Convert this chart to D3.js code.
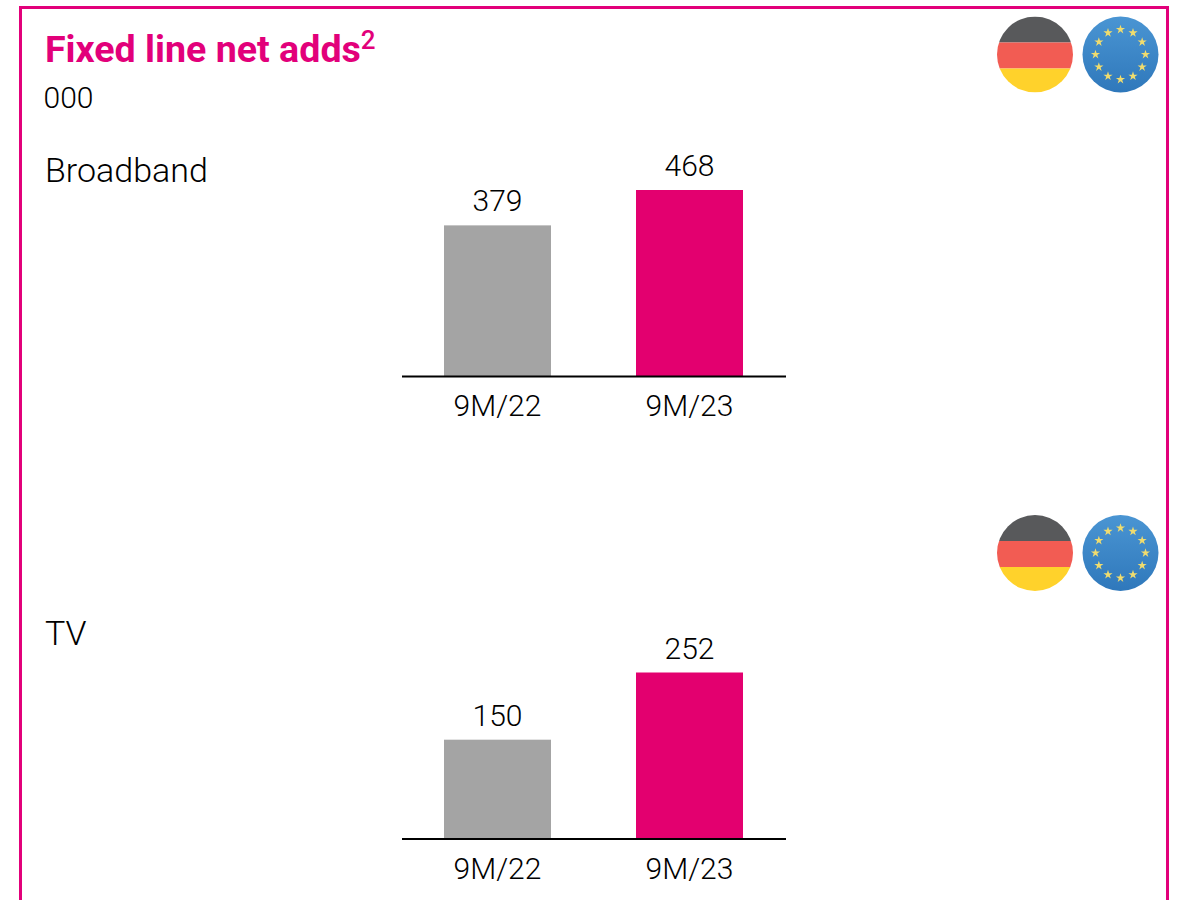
<!DOCTYPE html>
<html>
<head>
<meta charset="utf-8">
<script src="https://cdn.jsdelivr.net/npm/d3@7"></script>
<style>
	html, body { margin: 0; padding: 0; background: #fff; overflow: hidden; }
	text { font-family: Roboto, "Open Sans", sans-serif; font-weight: 300; fill: #000; }
</style>
</head>
<body>
<svg id="chart" width="1178" height="900"></svg>
<script>
const periods = ["9M/22", "9M/23"];
const broadbandValues = [379, 468];
const tvValues = [150, 252];
const barColors = ["#a4a4a4", "#e3006f"];
const magenta = "#e2007a";

var svg = d3.select("#chart");

// frame runs off the bottom of the page
svg
	.append("path")
	.attr("d", "M20.5,900V7.5H1167.5V900")
	.attr("fill", "none")
	.attr("stroke", magenta)
	.attr("stroke-width", 3);

var title = svg
	.append("text")
	.attr("x", 45)
	.attr("y", 62)
	.attr("font-size", 37.6)
	.style("font-weight", 700)
	.style("fill", magenta);
title.append("tspan").text("Fixed line net adds");
title.append("tspan").attr("font-size", 26).attr("dy", -13).style("font-weight", 500).text("2");

svg.append("text").attr("x", 43.5).attr("y", 107.5).attr("font-size", 30).text("000");

var defs = svg.append("defs");
var grad = defs
	.append("linearGradient")
	.attr("id", "euBlue")
	.attr("x1", 0)
	.attr("y1", 0)
	.attr("x2", 0)
	.attr("y2", 1);
grad.append("stop").attr("offset", "0%").attr("stop-color", "#4a95d3");
grad.append("stop").attr("offset", "100%").attr("stop-color", "#2f78bb");

var drawFlags = (cy) => {
	var r = 38;
	var clipId = "clip" + cy;
	defs.append("clipPath").attr("id", clipId).append("circle").attr("r", r);

	var de = svg
		.append("g")
		.attr("transform", `translate(1035,${cy})`)
		.attr("clip-path", `url(#${clipId})`);
	de.append("rect").attr("x", -r).attr("y", -r).attr("width", 2 * r).attr("height", 26).attr("fill", "#58595b");
	de.append("rect").attr("x", -r).attr("y", -12).attr("width", 2 * r).attr("height", 26).attr("fill", "#f25c53");
	de.append("rect").attr("x", -r).attr("y", 14).attr("width", 2 * r).attr("height", 24).attr("fill", "#ffd22b");

	var eu = svg.append("g").attr("transform", `translate(1120.5,${cy})`);
	eu.append("circle").attr("r", r).attr("fill", "url(#euBlue)");
	var star = d3.symbol().type(d3.symbolStar).size(26);
	d3.range(12).forEach((i) => {
		var a = (i * Math.PI) / 6;
		eu.append("path")
			.attr("d", star())
			.attr("fill", "#f0dc6e")
			.attr("transform", `translate(${25 * Math.sin(a)},${-25 * Math.cos(a)})`);
	});
};

var drawPanel = (name, nameY, values, baseline, pxPerUnit) => {
	svg.append("text").attr("x", 45).attr("y", nameY).attr("font-size", 34).text(name);

	let x = d3
		.scaleBand()
		.domain(periods)
		.range([401.5, 785.5])
		.paddingInner(85 / 192)
		.paddingOuter(42.5 / 192);
	let y = d3
		.scaleLinear()
		.domain([0, 100])
		.range([baseline, baseline - 100 * pxPerUnit]);

	svg
		.selectAll(null)
		.data(values)
		.enter()
		.append("rect")
		.attr("x", (d, i) => x(periods[i]))
		.attr("y", (d) => y(d))
		.attr("width", x.bandwidth())
		.attr("height", (d) => baseline - y(d))
		.attr("fill", (d, i) => barColors[i]);

	svg
		.selectAll(null)
		.data(values)
		.enter()
		.append("text")
		.attr("x", (d, i) => x(periods[i]) + x.bandwidth() / 2)
		.attr("y", (d) => y(d) - 14)
		.attr("text-anchor", "middle")
		.attr("font-size", 30)
		.text((d) => d);

	var axis = svg
		.append("g")
		.attr("transform", `translate(0,${baseline})`)
		.call(d3.axisBottom(x).tickSize(0).tickPadding(19));
	axis.select(".domain").attr("stroke", "#000").attr("stroke-width", 2);
	axis.selectAll("text").attr("font-size", 30);
};

drawFlags(54.5);
drawFlags(553);
drawPanel("Broadband", 182, broadbandValues, 376, 186 / 468);
drawPanel("TV", 645, tvValues, 838.5, 166 / 252);
</script>
</body>
</html>
